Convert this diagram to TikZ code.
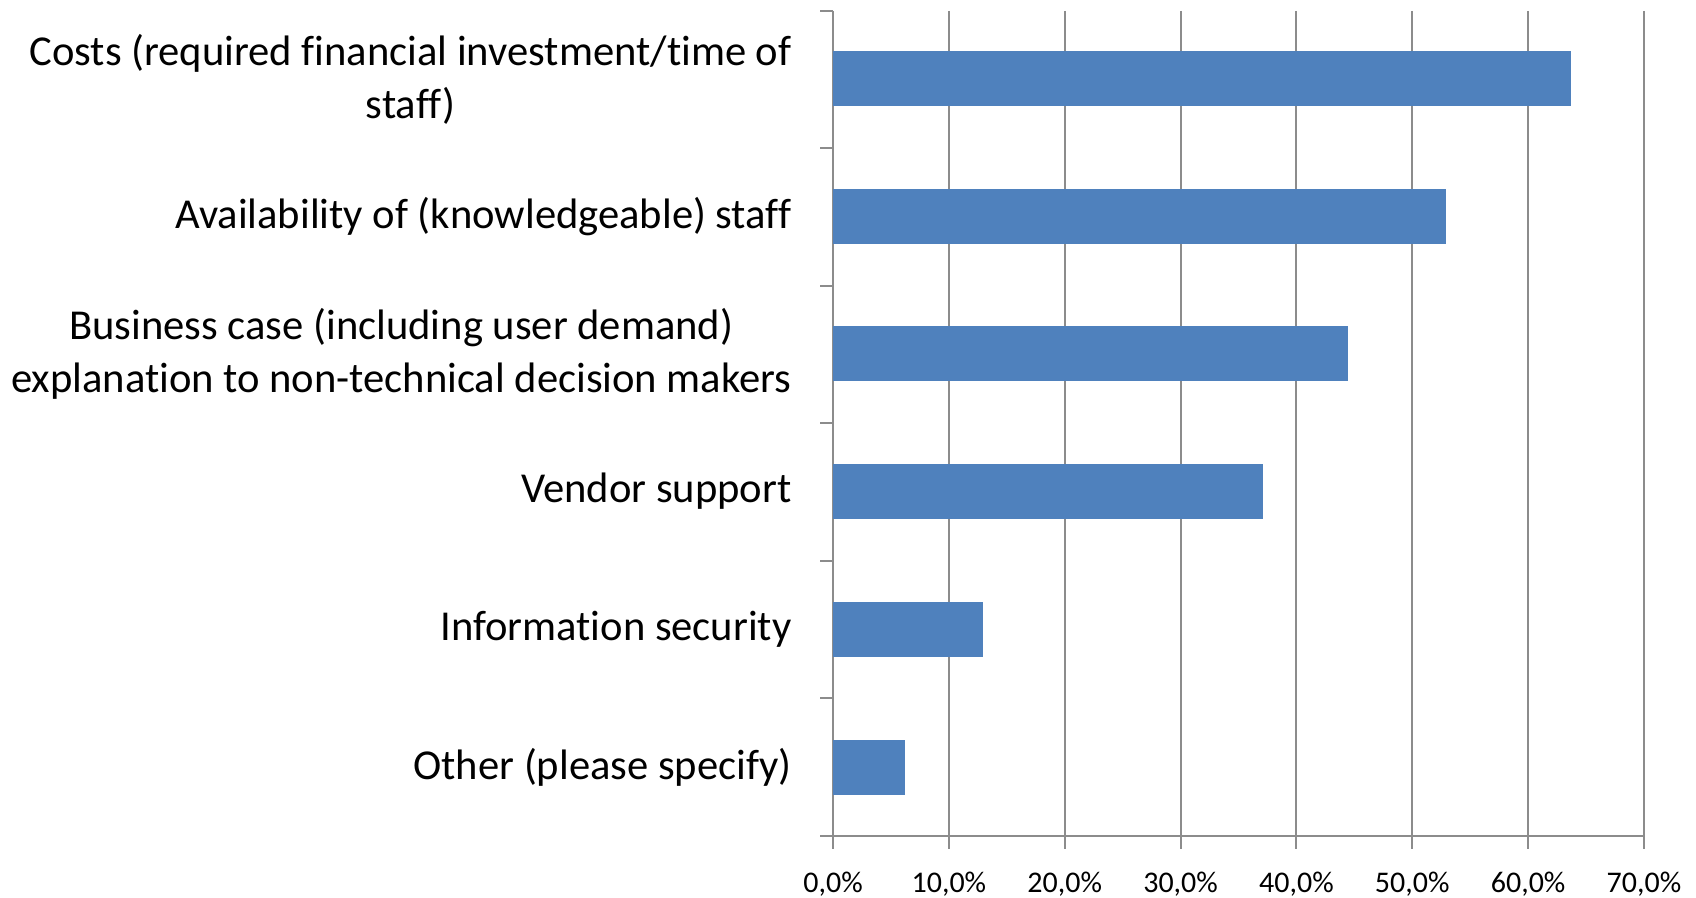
\documentclass[tikz,border=0pt]{standalone}
\usepackage{fontspec}
\setmainfont{Carlito}[RawFeature={-liga}]
\definecolor{barblue}{HTML}{4F81BD}
\definecolor{gridgray}{HTML}{8C8C8C}
\tikzset{
  catlabel/.style={anchor=east, align=center, inner sep=0pt,
    font=\fontsize{21.3}{26.5}\selectfont},
  ticklabel/.style={inner sep=0pt, font=\fontsize{15}{17}\selectfont},
  bar/.style={fill=barblue},
  gridline/.style={draw=gridgray, line width=1pt}
}
\begin{document}
\begin{tikzpicture}[x=0.5pt,y=-0.5pt]
\useasboundingbox (0,0) rectangle (1696,898);
% value grid and axes
\foreach \i in {1,...,7}
  \draw[gridline] ({833+115.85*\i},10.8) -- ({833+115.85*\i},849);
\coordinate (O) at (833,836);
\coordinate (T) at (833,10.8);
\coordinate (R) at (1643,836);
\coordinate (L) at (820,836);
\draw[gridline] (T) -- (833,849);
\draw[gridline] (L) -- (R);
\foreach \k in {0,...,5}
  \draw[gridline] (820,{10.8+137.53*\k}) -- (833,{10.8+137.53*\k});
% bars
\fill[bar] (833,51.5) rectangle (1570.5,106.5);
\fill[bar] (833,189) rectangle (1446,244);
\fill[bar] (833,326.5) rectangle (1347.7,381.5);
\fill[bar] (833,464) rectangle (1263.3,519);
\fill[bar] (833,602) rectangle (983.2,657);
\fill[bar] (833,740) rectangle (905.3,795);
% category labels
\node[catlabel] (C1) at (792,79) {Costs (required financial investment/time of\\staff)};
\node[catlabel] (C2) at (792,216.5) {Availability of (knowledgeable) staff};
\node[catlabel] (C3) at (792,354) {Business case (including user demand)\\explanation to non-technical decision makers};
\node[catlabel] (C4) at (792,491.5) {Vendor support};
\node[catlabel] (C5) at (792,629.5) {Information security};
\node[catlabel] (C6) at (792,767) {Other (please specify)};
% tick labels
\foreach \i/\t in {0/0,1/10,2/20,3/30,4/40,5/50,6/60,7/70}
  \node[ticklabel] (X\i) at ({833+115.85*\i},884) {\t,0\%};
\end{tikzpicture}
\end{document}
